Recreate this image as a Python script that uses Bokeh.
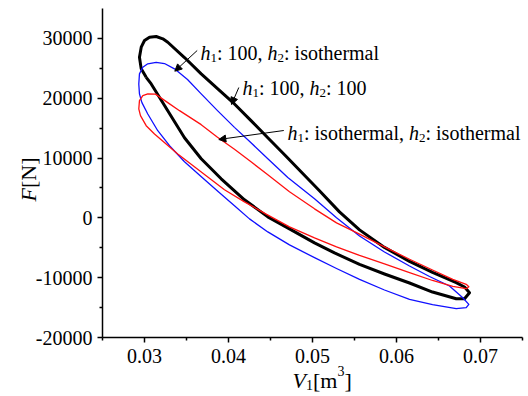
from math import pi
from bokeh.plotting import figure
from bokeh.models import Range1d, FixedTicker, Label, Arrow, NormalHead
from bokeh.embed import file_html
from bokeh.resources import INLINE

# ---- data ----
# h1: 100, h2: isothermal (black loop)
black_v = [0.03020, 0.02961, 0.02940, 0.02961, 0.03000, 0.03060, 0.03139, 0.03218,
           0.03277, 0.03476, 0.03675, 0.03869, 0.04071, 0.04268, 0.04468, 0.04679,
           0.04881, 0.05083, 0.05321, 0.05560, 0.05857, 0.06155, 0.06429, 0.06711,
           0.06810, 0.06869, 0.06810, 0.06711, 0.06429, 0.06155, 0.05857, 0.05560,
           0.05262, 0.05024, 0.04726, 0.04468, 0.04190, 0.03913, 0.03675, 0.03476,
           0.03277, 0.03080]
black_f = [23500, 24910, 26850, 28530, 29650, 30200, 30320, 29930,
           29360, 26800, 24070, 21610, 19040, 16250, 13400, 10390,
           7450, 4520, 1000, -2010, -4940, -7290, -9130, -10840,
           -11560, -12510, -13520, -13520, -12400, -10890, -9380, -7790,
           -5860, -4190, -1840, 170, 3020, 6530, 9880, 13400,
           17920, 22390]

# h1: 100, h2: 100 (blue loop)
blue_v = [0.02968, 0.02940, 0.02932, 0.02940, 0.02980, 0.03039, 0.03139, 0.03238,
          0.03357, 0.03512, 0.03675, 0.03869, 0.04071, 0.04268, 0.04468, 0.04706,
          0.05024, 0.05286, 0.05560, 0.05857, 0.06155, 0.06393, 0.06631, 0.06789,
          0.06861, 0.06830, 0.06711, 0.06429, 0.06155, 0.05857, 0.05560, 0.05286,
          0.05024, 0.04726, 0.04468, 0.04250, 0.04071, 0.03893, 0.03690, 0.03476,
          0.03298, 0.03158, 0.03039]
blue_f = [19310, 20720, 22390, 24070, 25180, 25750, 26010, 25800,
          24910, 23120, 20720, 17920, 15130, 12560, 9880, 6750,
          3180, 0, -3020, -5700, -8040, -9800, -11390, -13350,
          -14460, -15020, -15190, -14490, -13620, -12060, -10270, -8460,
          -6650, -4520, -2350, -170, 2010, 4190, 6700, 9380,
          12060, 14570, 17370]

# h1: isothermal, h2: isothermal (red loop)
red_v = [0.02952, 0.02932, 0.02940, 0.02980, 0.03039, 0.03131, 0.03277, 0.03417,
         0.03675, 0.03869, 0.04071, 0.04268, 0.04468, 0.04726, 0.05024, 0.05286,
         0.05560, 0.05857, 0.06155, 0.06429, 0.06670, 0.06830, 0.06861, 0.06830,
         0.06670, 0.06429, 0.06155, 0.05857, 0.05560, 0.05286, 0.05024, 0.04726,
         0.04464, 0.04190, 0.03952, 0.03734, 0.03396, 0.03119, 0.03020]
red_f = [17090, 18210, 19600, 20440, 20720, 20690, 19260, 17920,
         15580, 13480, 11470, 9380, 7200, 4360, 1510, -840,
         -2730, -4860, -6920, -8710, -10270, -11110, -11510, -11840,
         -11470, -10470, -9160, -7700, -6280, -4860, -3350, -1510,
         500, 2680, 4690, 7040, 10670, 14020, 15410]

x_major = [0.03, 0.04, 0.05, 0.06, 0.07]
x_minor = [0.025, 0.035, 0.045, 0.055, 0.065, 0.075]
x_labels = ["0.03", "0.04", "0.05", "0.06", "0.07"]
y_major = [-20000, -10000, 0, 10000, 20000, 30000]
y_minor = [-15000, -5000, 5000, 15000, 25000]
y_labels = ["-20000", "-10000", "0", "10000", "20000", "30000"]

# ---- layout ----
X0, X1 = 0.025, 0.075          # extent of the drawn x axis
Y0, Y1 = -20000, 35000         # extent of the drawn y axis
W, H = 528, 396
L, R, T, B = 102, 6, 8, 59     # pixel margins of the axes box inside the canvas
SX = (W - L - R) / (X1 - X0)
SY = (H - T - B) / (Y1 - Y0)
XL, XR = X0 - L / SX, X1 + R / SX
YB, YT = Y0 - B / SY, Y1 + T / SY
FONT = "Liberation Serif"


def dx(px):
    return XL + px / SX


def dy(py):
    return YT - py / SY


p = figure(width=W, height=H, x_range=Range1d(XL, XR), y_range=Range1d(YB, YT),
           output_backend="svg", toolbar_location=None, min_border=0)
p.xgrid.visible = False
p.ygrid.visible = False
p.outline_line_color = None
p.background_fill_color = "white"
p.border_fill_color = "white"

p.xaxis.fixed_location = Y0
p.yaxis.fixed_location = X0
p.xaxis.bounds = (X0, X1)
p.yaxis.bounds = (Y0, Y1)
p.xaxis.ticker = FixedTicker(ticks=x_major, minor_ticks=x_minor)
p.yaxis.ticker = FixedTicker(ticks=y_major, minor_ticks=y_minor)
p.xaxis.major_label_overrides = {t: s for t, s in zip(x_major, x_labels)}
p.yaxis.major_label_overrides = {t: s for t, s in zip(y_major, y_labels)}
for ax in (p.xaxis[0], p.yaxis[0]):
    ax.axis_line_width = 1.5
    ax.axis_line_color = "black"
    ax.major_tick_out = 5
    ax.major_tick_in = 0
    ax.minor_tick_out = 3
    ax.minor_tick_in = 0
    ax.major_tick_line_width = 1.5
    ax.minor_tick_line_width = 1.5
    ax.major_tick_line_color = "black"
    ax.minor_tick_line_color = "black"
    ax.major_label_text_font = FONT
    ax.major_label_text_font_size = "20px"
    ax.major_label_text_color = "black"
p.xaxis.major_label_standoff = 6
p.yaxis.major_label_standoff = 5

p.line(black_v + black_v[:1], black_f + black_f[:1], line_color="black", line_width=3.0,
       line_join="round")
p.line(blue_v + blue_v[:1], blue_f + blue_f[:1], line_color="#1010ff", line_width=1.3,
       line_join="round")
p.line(red_v + red_v[:1], red_f + red_f[:1], line_color="#ff1010", line_width=1.3,
       line_join="round")

CW = {'h': 0.5, '1': 0.5, '2': 0.5, '3': 0.5, '0': 0.5, ':': 0.278, ' ': 0.25, ',': 0.25,
      'i': 0.278, 's': 0.389, 'o': 0.5, 't': 0.278, 'e': 0.444, 'r': 0.333, 'm': 0.778,
      'a': 0.444, 'l': 0.278, 'F': 0.611, '[': 0.333, ']': 0.333, 'N': 0.722, 'V': 0.611}


def tw(s, size):
    return sum(CW.get(c, 0.5) for c in s) * size


def rich(px, py, pieces, size=20, angle=0.0, sub=0.28):
    pos = px if angle == 0 else py
    for txt, kind in pieces:
        fs = size if kind in ("reg", "it") else round(size * 0.65)
        off = 0
        if kind == "sub":
            off = size * sub
        elif kind == "sup":
            off = -size * 0.42
        style = "italic" if kind == "it" else "normal"
        if angle == 0:
            lx, ly = pos, py + off
            pos += tw(txt, fs)
        else:
            lx, ly = px + off, pos
            pos -= tw(txt, fs)
        p.add_layout(Label(x=dx(lx), y=dy(ly), text=txt, text_font=FONT,
                           text_font_size=f"{fs}px", text_font_style=style,
                           text_baseline="alphabetic", text_align="left",
                           text_color="black", angle=angle))


rich(200, 52, [("h", "it"), ("1", "sub"), (": 100, ", "reg"), ("h", "it"), ("2", "sub"),
               (": isothermal", "reg")])
rich(242, 87, [("h", "it"), ("1", "sub"), (": 100, ", "reg"), ("h", "it"), ("2", "sub"),
               (": 100", "reg")])
rich(287, 132, [("h", "it"), ("1", "sub"), (": isothermal, ", "reg"), ("h", "it"), ("2", "sub"),
                (": isothermal", "reg")])

# axis titles
rich(292, 380, [("V", "it"), ("1", "sub"), ("[m", "reg"), ("3", "sup"), ("]", "reg")],
     size=22, sub=0.2)
rich(28, 201, [("F", "it"), ("[N]", "reg")], size=22, angle=pi / 2)

for (x0, y0, x1, y1) in [(196.7, 50, 174.3, 70.7), (238.3, 87, 231, 104), (283.3, 130, 218.3, 139)]:
    p.add_layout(Arrow(end=NormalHead(size=7, fill_color="black", line_color="black", line_width=1),
                       x_start=dx(x0), y_start=dy(y0), x_end=dx(x1), y_end=dy(y1),
                       line_color="black", line_width=1))

open("out.html", "w").write(file_html(p, INLINE))
